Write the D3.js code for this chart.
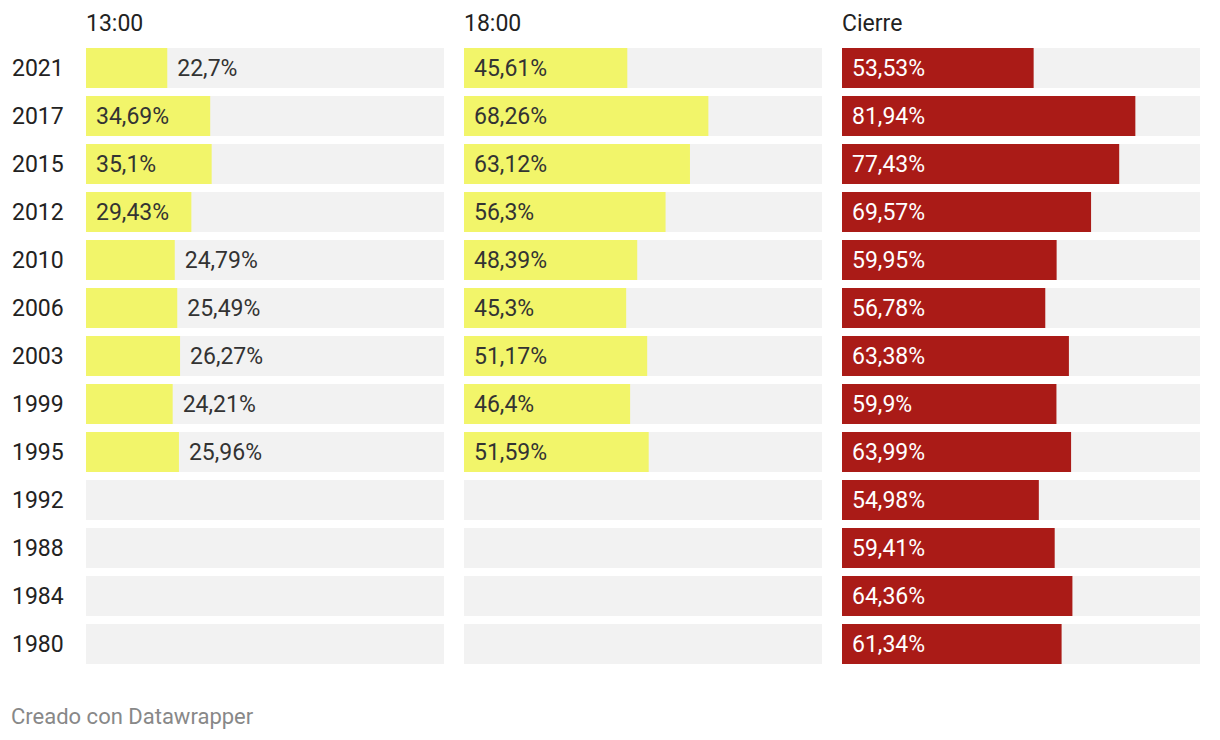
<!DOCTYPE html>
<html>
<head>
<meta charset="utf-8">
<script src="https://cdn.jsdelivr.net/npm/d3@7"></script>
<style>
html,body{margin:0;padding:0;background:#fff;}
svg{display:block;font-family:Roboto, "Noto Sans", sans-serif;}
</style>
</head>
<body>
<svg id="chart" width="1220" height="740"></svg>
<script>
const years = ["2021","2017","2015","2012","2010","2006","2003","1999","1995","1992","1988","1984","1980"];
const columns = ["13:00","18:00","Cierre"];
const v1300 = [22.7,34.69,35.1,29.43,24.79,25.49,26.27,24.21,25.96,null,null,null,null];
const v1800 = [45.61,68.26,63.12,56.3,48.39,45.3,51.17,46.4,51.59,null,null,null,null];
const vCierre = [53.53,81.94,77.43,69.57,59.95,56.78,63.38,59.9,63.99,54.98,59.41,64.36,61.34];
const seriesValues = [v1300, v1800, vCierre];
const barColors = ["#f2f56a","#f2f56a","#aa1b17"];
const labelColors = ["#333333","#333333","#ffffff"];
const FS = 23;

const svg = d3.select("#chart");
const fmt = v => String(v).replace(".", ",") + "%";

const y = d3.scaleBand().domain(years)
  .range([48, 48 + 48*years.length - 8]).paddingInner(8/48).paddingOuter(0);

const panelX = d3.scaleBand().domain(columns).range([86, 1200]).paddingInner(20/378);
const pw = panelX.bandwidth();

svg.append("g").selectAll("text").data(years).join("text")
  .attr("x", 12).attr("y", d => y(d) + y.bandwidth()/2)
  .attr("dy", "0.35em").attr("font-size", FS).attr("fill", "#222")
  .text(d => d);

columns.forEach((col, ci) => {
  const x0 = panelX(col);
  const x = d3.scaleLinear().domain([0, 100]).range([0, pw]);
  const g = svg.append("g").attr("transform", `translate(${x0},0)`);
  g.append("text").attr("x", 0).attr("y", 23).attr("dy", "0.35em")
    .attr("font-size", FS).attr("fill", "#222").text(col);
  const data = years.map((yr, i) => ({yr, v: seriesValues[ci][i]}));
  g.selectAll("rect.bg").data(data).join("rect").attr("class","bg")
    .attr("x", 0).attr("y", d => y(d.yr)).attr("width", pw).attr("height", y.bandwidth())
    .attr("fill", "#f2f2f2");
  const valid = data.filter(d => d.v != null);
  g.selectAll("rect.bar").data(valid).join("rect").attr("class","bar")
    .attr("x", 0).attr("y", d => y(d.yr)).attr("width", d => x(d.v)).attr("height", y.bandwidth())
    .attr("fill", barColors[ci]);
  const labels = g.selectAll("text.lbl").data(valid).join("text").attr("class","lbl")
    .attr("y", d => y(d.yr) + y.bandwidth()/2).attr("dy", "0.35em")
    .attr("font-size", FS).text(d => fmt(d.v));
  let maxW = 0;
  labels.each(function(){ maxW = Math.max(maxW, this.getComputedTextLength()); });
  labels.each(function(d){
    const bw = x(d.v);
    const sel = d3.select(this);
    if (maxW + 24 <= bw) {
      sel.attr("x", 10).attr("fill", labelColors[ci]);
    } else {
      sel.attr("x", bw + 10).attr("fill", "#333333");
    }
  });
});

svg.append("text").attr("x", 11).attr("y", 716).attr("dy", "0.35em")
  .attr("font-size", 22).attr("fill", "#888").text("Creado con Datawrapper");
</script>
</body>
</html>
